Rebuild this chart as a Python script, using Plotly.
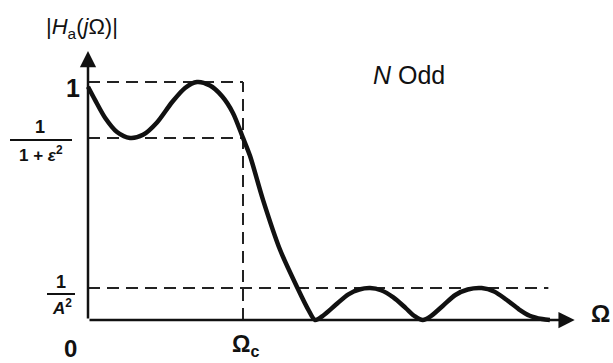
import plotly.graph_objects as go

# ---- data (Omega normalised so that Omega_c = 1) ----
omega = [0.0, 0.045, 0.11, 0.187, 0.271, 0.355, 0.445, 0.542, 0.626, 0.703,
         0.787, 0.865, 0.935, 1.0, 1.045, 1.129, 1.239, 1.355, 1.42, 1.465,
         1.52, 1.60, 1.68, 1.75, 1.82, 1.89, 1.97, 2.05, 2.11, 2.16,
         2.21, 2.29, 2.37, 2.45, 2.54, 2.62, 2.70, 2.78, 2.85, 2.93, 2.98]
magnitude = [0.98, 0.925, 0.85, 0.79, 0.765, 0.778, 0.83, 0.915, 0.975, 1.0,
             0.985, 0.94, 0.87, 0.765, 0.69, 0.505, 0.295, 0.13, 0.045, 0.0,
             0.02, 0.065, 0.108, 0.128, 0.134, 0.125, 0.095, 0.05, 0.015, 0.0,
             0.015, 0.06, 0.105, 0.128, 0.134, 0.12, 0.085, 0.045, 0.018, 0.004, 0.0]

pass_max = 1.0          # level "1"
pass_min = 0.765        # level 1/(1+eps^2)
stop_max = 0.134        # level 1/A^2
omega_c = 1.0
stop_line_end = 2.97
x_axis_end = 3.14
y_axis_end = 1.13

# ---- pixel helpers for placing text ----
X0, SX = 88, 155
Y0, SY = 320, 238
def dx(px): return (px - X0) / SX
def dy(py): return (Y0 - py) / SY

W, H = 613, 363
FONT = "Liberation Sans, Arial, sans-serif"

fig = go.Figure()

dash_style = dict(color="#222", width=2, dash="12px,7px")
fig.add_trace(go.Scatter(x=[0, omega_c], y=[pass_max, pass_max], mode="lines", line=dash_style))
fig.add_trace(go.Scatter(x=[0, omega_c], y=[pass_min, pass_min], mode="lines", line=dash_style))
fig.add_trace(go.Scatter(x=[0, stop_line_end], y=[stop_max, stop_max], mode="lines", line=dash_style))
fig.add_trace(go.Scatter(x=[omega_c, omega_c], y=[0, pass_max], mode="lines", line=dash_style))

fig.add_trace(go.Scatter(x=omega, y=magnitude, mode="lines",
                         line=dict(color="#111", width=4.5, shape="spline", smoothing=0.8)))

annotations = []
# axes with arrows
annotations.append(dict(x=x_axis_end, y=0, ax=0, ay=0, xref="x", yref="y", axref="x", ayref="y",
                        text="", showarrow=True, arrowhead=2, arrowsize=1.3, arrowwidth=2.5,
                        arrowcolor="#111"))
annotations.append(dict(x=0, y=y_axis_end, ax=0, ay=0, xref="x", yref="y", axref="x", ayref="y",
                        text="", showarrow=True, arrowhead=2, arrowsize=1.3, arrowwidth=2.5,
                        arrowcolor="#111"))

def txt(px, py, s, size=22, bold=False):
    if bold:
        s = "<b>" + s + "</b>"
    annotations.append(dict(x=dx(px), y=dy(py), xref="x", yref="y", text=s, showarrow=False,
                            font=dict(family=FONT, size=size, color="#111"),
                            xanchor="center", yanchor="middle"))

txt(82, 28, "|<i>H</i><sub>a</sub>(<i>j</i>Ω)|", 22)
txt(409, 75, "<i>N</i> Odd", 25)
txt(73, 88, "1", 25, bold=True)
txt(40, 127, "1", 18, bold=True)
txt(41, 154, "1 + <i>ε</i><sup>2</sup>", 17, bold=True)
txt(61, 282, "1", 18, bold=True)
txt(62, 307, "<i>A</i><sup>2</sup>", 17, bold=True)
txt(70, 348, "0", 24, bold=True)
txt(245, 345, "Ω<sub>c</sub>", 23, bold=True)
txt(600, 313, "Ω", 24, bold=True)

shapes = [
    dict(type="line", xref="x", yref="y", x0=dx(10), x1=dx(72), y0=dy(140), y1=dy(140),
         line=dict(color="#111", width=2)),
    dict(type="line", xref="x", yref="y", x0=dx(47), x1=dx(75), y0=dy(294), y1=dy(294),
         line=dict(color="#111", width=2)),
]

fig.update_layout(
    width=W, height=H, margin=dict(l=0, r=0, t=0, b=0),
    paper_bgcolor="white", plot_bgcolor="white", showlegend=False,
    xaxis=dict(range=[dx(0), dx(W)], visible=False, fixedrange=True),
    yaxis=dict(range=[dy(H), dy(0)], visible=False, fixedrange=True),
    annotations=annotations, shapes=shapes,
)

fig.write_html("out.html", config={"displayModeBar": False},
               post_script="document.body.style.margin='0';document.body.style.overflow='hidden';")
